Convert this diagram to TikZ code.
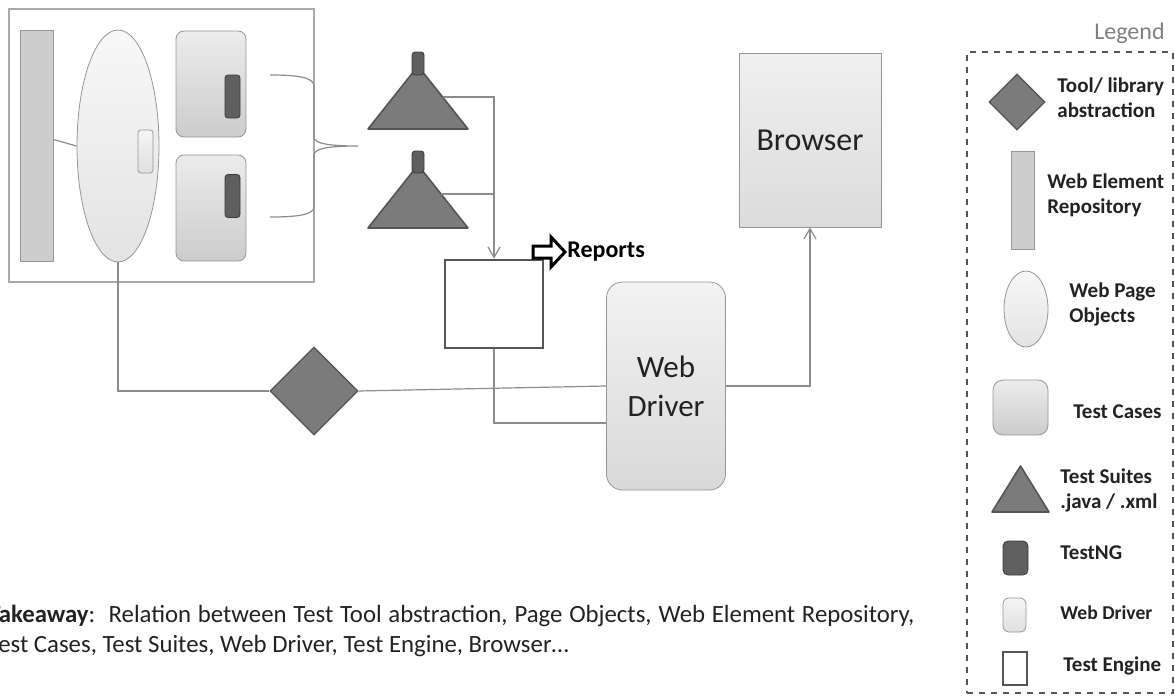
\documentclass[tikz,border=0pt]{standalone}
\usepackage{fontspec}
\setmainfont{Carlito}
\usepackage{tikz}
\usetikzlibrary{shapes.geometric, arrows.meta, positioning, calc}
\definecolor{framegray}{RGB}{170, 170, 170}
\definecolor{linkgray}{RGB}{140, 140, 140}
\definecolor{toolgray}{RGB}{123, 123, 123}
\definecolor{tooledge}{RGB}{85, 85, 85}
\definecolor{nggray}{RGB}{95, 95, 95}
\definecolor{ngedge}{RGB}{58, 58, 58}
\definecolor{repogray}{RGB}{205, 205, 205}
\definecolor{softedge}{RGB}{150, 150, 150}
\definecolor{textgray}{RGB}{34, 34, 34}

\begin{document}
\begin{tikzpicture}[
    x=0.5pt, y=-0.5pt,
    panel/.style={draw=framegray, line width=0.6pt},
    link/.style={draw=linkgray, line width=0.6pt},
    arrow/.style={link, -{Straight Barb[angle=60:6pt]}},
    repobar/.style={draw=softedge, fill=repogray, inner sep=0pt},
    pageobj/.style={ellipse, draw=softedge, top color=gray!6, bottom color=gray!22, inner sep=0pt},
    testcase/.style={draw=softedge, rounded corners=4pt, top color=gray!15, bottom color=gray!40, inner sep=0pt},
    testng/.style={draw=ngedge, fill=nggray, rounded corners=1.5pt, inner sep=0pt},
    knob/.style={draw=softedge, rounded corners=1.5pt, top color=gray!8, bottom color=gray!25, inner sep=0pt},
    suite/.style={draw=tooledge, fill=toolgray, line width=0.8pt, line join=round},
    tool/.style={diamond, draw=tooledge, fill=toolgray, line width=0.6pt, inner sep=0pt, aspect=1},
    engine/.style={draw=tooledge, fill=white, line width=1.4pt, inner sep=0pt},
    driver/.style={draw=softedge, rounded corners=8pt, top color=gray!10, bottom color=gray!30, font=\fontsize{15.5}{19.5}\selectfont, text=textgray, align=center},
    browser/.style={draw=softedge, top color=gray!12, bottom color=gray!28, font=\fontsize{16}{19}\selectfont, text=textgray},
    legtext/.style={anchor=west, align=left, inner sep=0pt, font=\fontsize{10.5}{12.5}\selectfont\bfseries, text=textgray}
]
    \useasboundingbox (0,0) rectangle (1175,696);
    \clip (0,0) rectangle (1175,696);

    % Page object panel
    \node[panel, minimum width=152.5pt, minimum height=136.5pt] (panel) at (161.5,145.5) {};
    \node[repobar, minimum width=16.5pt, minimum height=115.5pt] (repo) at (36.5,145.5) {};
    \node[pageobj, minimum width=41pt, minimum height=116pt] (wpo) at (118,146) {};
    \node[knob, minimum width=7.5pt, minimum height=21.5pt] (wpoknob) at (145.5,151.5) {};
    \node[testcase, minimum width=35pt, minimum height=53pt] (tcone) at (211,84) {};
    \node[testng, minimum width=7.5pt, minimum height=21.5pt] (ngone) at (232.5,96.5) {};
    \node[testcase, minimum width=35pt, minimum height=53pt] (tctwo) at (211,208) {};
    \node[testng, minimum width=7.5pt, minimum height=21.5pt] (ngtwo) at (232.5,196) {};
    \draw[link] ($(repo.east)+(0,-6)$) -- (wpo.west);

    % Brace towards the suites
    \draw[link] (270,75) .. controls (296,75) and (314,77) .. (314,86) -- (314,137)
        .. controls (314,143) and (326,146) .. (358,146)
        .. controls (326,146) and (314,149) .. (314,155) -- (314,207)
        .. controls (314,215) and (296,217) .. (270,217);

    % Test suites
    \draw[suite] (368,129) -- (468,129) -- (418,66) -- cycle;
    \node[testng, minimum width=6pt, minimum height=11.5pt] (suiteoneng) at (418,63.5) {};
    \coordinate (suiteone) at (443,97);
    \draw[suite] (368,228) -- (468,228) -- (418,165) -- cycle;
    \node[testng, minimum width=6pt, minimum height=11pt] (suitetwong) at (418,162) {};
    \coordinate (suitetwo) at (441,194);

    % Engine, driver, browser
    \node[engine, minimum width=49pt, minimum height=44pt] (engine) at (494,304) {};
    \coordinate (reparrow) at (533,252);
    \draw[draw=black, fill=white, line width=1.5pt, line join=miter]
        (reparrow) ++(0,-6) -- ++(18,0) -- ++(0,-9) -- ++(14,15) -- ++(-14,15) -- ++(0,-9) -- ++(-18,0) -- cycle;
    \node[anchor=west, inner sep=0pt, font=\fontsize{12}{14}\selectfont\bfseries, text=black] (reports) at (567,252) {Reports};
    \node[driver, minimum width=59.5pt, minimum height=104pt] (webdriver) at (666,386) {Web\\Driver};
    \node[browser, minimum width=71pt, minimum height=87pt] (browser) at (810,140) {Browser};
    \node[tool, minimum width=44pt, minimum height=44pt] (tool) at (314,391) {};

    % Relationships
    \draw[arrow] (suiteone) -| (engine.north);
    \draw[link] (suitetwo) -- (engine.north |- suitetwo);
    \draw[link] (wpo.south) |- (tool.west);
    \draw[link] (tool.east) -- (webdriver.west);
    \draw[link] (engine.south) |- ($(webdriver.west)+(0,37)$);
    \draw[arrow] (webdriver.east) -| (browser.south);

    % Takeaway
    \node[anchor=base west, align=left, inner sep=0pt, font=\fontsize{12.4}{15}\selectfont, text=textgray] (takeaway) at (-12,652)
        {\makebox[463pt][s]{\textbf{Takeaway}:~~Relation between Test Tool abstraction, Page Objects, Web Element Repository,}\\
         Test Cases, Test Suites, Web Driver, Test Engine, Browser…};

    % Legend
    \node[anchor=east, inner sep=0pt, font=\fontsize{12}{14}\selectfont, text=gray] (legtitle) at (1165,33) {Legend};
    \node[draw=tooledge, dashed, line width=0.7pt, minimum width=103pt, minimum height=320.5pt] (legbox) at (1070,372.5) {};
    \node[tool, minimum width=28pt, minimum height=28pt] (legtool) at (1017,102) {};
    \node[legtext] (legtooltxt) at (1057,97.5) {Tool/ library\\abstraction};
    \node[repobar, minimum width=11.5pt, minimum height=49pt] (legrepo) at (1022.5,200) {};
    \node[legtext] (legrepotxt) at (1047,195) {Web Element\\Repository};
    \node[pageobj, minimum width=22pt, minimum height=38pt] (legwpo) at (1026,309) {};
    \node[legtext] (legwpotxt) at (1069,304.5) {Web Page\\Objects};
    \node[testcase, rounded corners=5pt, minimum width=27.5pt, minimum height=27.5pt] (legtc) at (1020.5,407.5) {};
    \node[legtext] (legtctxt) at (1073,412) {Test Cases};
    \draw[suite] (992,512) -- (1049,512) -- (1020.5,466) -- cycle;
    \coordinate (legsuite) at (1020.5,495);
    \node[legtext] (legsuitetxt) at (1060,490.5) {Test Suites\\.java / .xml};
    \node[testng, rounded corners=2.5pt, minimum width=12.5pt, minimum height=17pt] (legng) at (1015.5,558) {};
    \node[legtext] (legngtxt) at (1060,553) {TestNG};
    \node[knob, rounded corners=3pt, minimum width=11.5pt, minimum height=17pt] (legdriver) at (1014.5,615) {};
    \node[legtext, font=\fontsize{9.8}{11}\selectfont\bfseries] (legdrivertxt) at (1060,613) {Web Driver};
    \node[engine, line width=1.2pt, minimum width=12pt, minimum height=16.5pt] (legengine) at (1015,668.5) {};
    \node[legtext] (legenginetxt) at (1063,666) {Test Engine};
\end{tikzpicture}
\end{document}
